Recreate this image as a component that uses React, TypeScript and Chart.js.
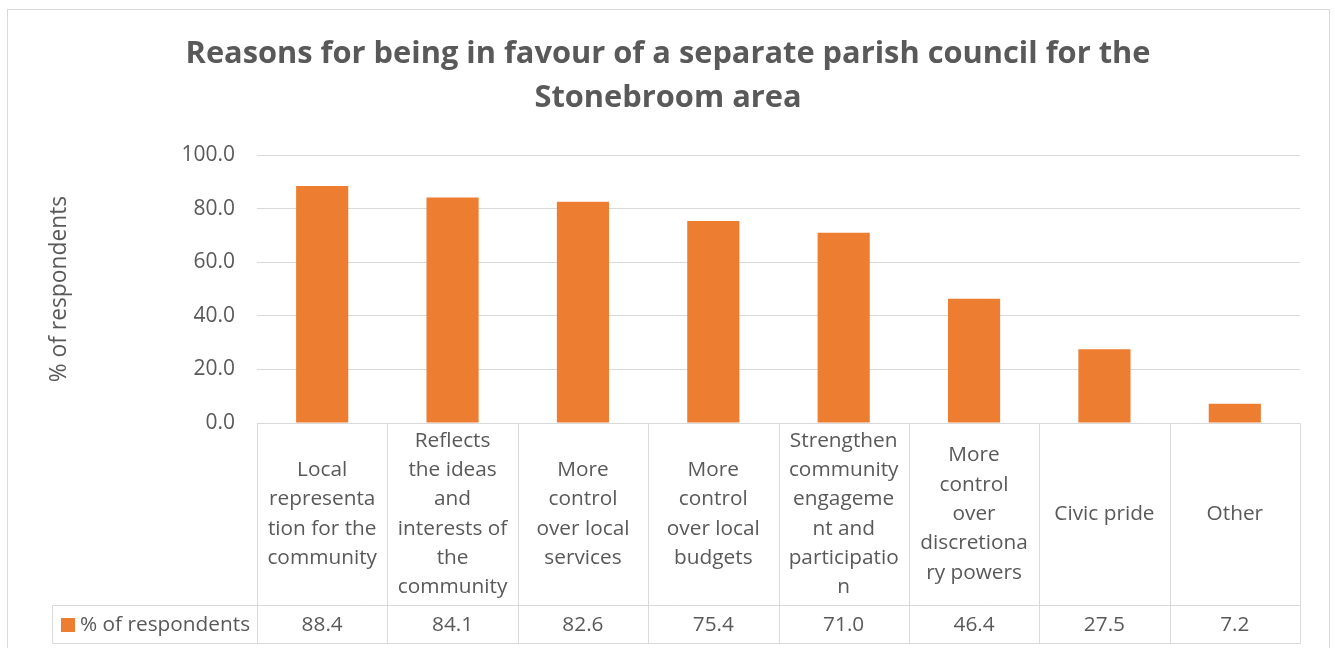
import React, { useEffect, useRef } from "react";
import { Chart, registerables } from "chart.js";

Chart.register(...registerables);

const TITLE_LINES = [
  "Reasons for being in favour of a separate parish council for the",
  "Stonebroom area",
];
const SERIES_NAME = "% of respondents";
const CATEGORY_LINES: string[][] = [
  ["Local", "representa", "tion for the", "community"],
  ["Reflects", "the ideas", "and", "interests of", "the", "community"],
  ["More", "control", "over local", "services"],
  ["More", "control", "over local", "budgets"],
  ["Strengthen", "community", "engageme", "nt and", "participatio", "n"],
  ["More", "control", "over", "discretiona", "ry powers"],
  ["Civic pride"],
  ["Other"],
];
const CATEGORIES = CATEGORY_LINES.map((l) => l.join(" "));
const VALUES = [88.4, 84.1, 82.6, 75.4, 71.0, 46.4, 27.5, 7.2];
const Y_TICKS = [0, 20, 40, 60, 80, 100];

const FONT = "'Open Sans'";
const GREY = "#595959";
const LINE = "#d9d9d9";
const ORANGE = "#ED7D31";
const TABLE_FONT = 20.8;

const tablePlugin = {
  id: "dataTable",
  afterDraw(chart: any) {
    const { ctx, chartArea } = chart;
    const x = chart.scales.x;
    const n = CATEGORIES.length;
    const half = (x.getPixelForValue(1) - x.getPixelForValue(0)) / 2;
    const top = chartArea.bottom;
    const catRowH = 182;
    const valRowH = 38;
    const mid = top + catRowH;
    const bot = mid + valRowH;
    const legendLeft = 52;
    ctx.save();
    // outer chart border
    ctx.strokeStyle = LINE;
    ctx.lineWidth = 1;
    ctx.strokeRect(7.5, 9.5, 1322, 700);
    // title
    ctx.fillStyle = GREY;
    ctx.textAlign = "center";
    ctx.textBaseline = "middle";
    ctx.font = `bold 30.8px ${FONT}`;
    TITLE_LINES.forEach((t, k) => ctx.fillText(t, 668, 54 + k * 44));
    // table lines
    ctx.beginPath();
    const L = Math.round(x.getPixelForValue(0) - half) + 0.5;
    const R = Math.round(x.getPixelForValue(n - 1) + half) + 0.5;
    ctx.moveTo(L, Math.round(top) + 0.5);
    ctx.lineTo(R, Math.round(top) + 0.5);
    ctx.moveTo(legendLeft + 0.5, Math.round(mid) + 0.5);
    ctx.lineTo(R, Math.round(mid) + 0.5);
    ctx.moveTo(legendLeft + 0.5, Math.round(bot) + 0.5);
    ctx.lineTo(R, Math.round(bot) + 0.5);
    ctx.moveTo(legendLeft + 0.5, Math.round(mid) + 0.5);
    ctx.lineTo(legendLeft + 0.5, Math.round(bot) + 0.5);
    for (let i = 0; i <= n; i++) {
      const px = Math.round(x.getPixelForValue(i) - half) + 0.5;
      ctx.moveTo(px, Math.round(top) + 0.5);
      ctx.lineTo(px, Math.round(bot) + 0.5);
    }
    ctx.stroke();
    // text
    ctx.fillStyle = GREY;
    ctx.font = `${TABLE_FONT}px ${FONT}`;
    const lh = 29.3;
    const cy = top + catRowH / 2;
    for (let i = 0; i < n; i++) {
      const cx = x.getPixelForValue(i);
      const lines = CATEGORY_LINES[i];
      const y0 = cy - ((lines.length - 1) * lh) / 2;
      lines.forEach((t, k) => ctx.fillText(t, cx, y0 + k * lh));
      ctx.fillText(VALUES[i].toFixed(1), cx, mid + valRowH / 2 + 1);
    }
    // legend cell
    ctx.fillStyle = ORANGE;
    ctx.fillRect(61, mid + 13, 14, 14);
    ctx.fillStyle = GREY;
    ctx.textAlign = "left";
    ctx.fillText(SERIES_NAME, 80, mid + valRowH / 2 + 1);
    ctx.restore();
  },
};

export default function App() {
  const ref = useRef<HTMLCanvasElement>(null);
  useEffect(() => {
    if (!ref.current) return;
    const chart = new Chart(ref.current, {
      type: "bar",
      data: {
        labels: CATEGORIES,
        datasets: [
          {
            label: SERIES_NAME,
            data: VALUES,
            backgroundColor: ORANGE,
            categoryPercentage: 1,
            barPercentage: 0.4,
          },
        ],
      },
      options: {
        responsive: false,
        animation: false,
        layout: { padding: { left: 0, right: 35, top: 155, bottom: 0 } },
        plugins: {
          legend: { display: false },
          tooltip: { enabled: false },
          title: { display: false },
        },
        scales: {
          x: {
            grid: { display: false },
            border: { display: false },
            ticks: { display: false },
            afterFit(scale: any) {
              scale.height = 225;
            },
          },
          y: {
            min: 0,
            max: 100,
            afterBuildTicks(scale: any) {
              scale.ticks = Y_TICKS.map((v) => ({ value: v }));
            },
            ticks: {
              color: GREY,
              font: { family: "Open Sans", size: 21 },
              padding: 22,
              callback: (v: any) => Number(v).toFixed(1),
            },
            grid: { color: LINE, drawTicks: false },
            border: { display: false },
            title: {
              display: true,
              text: SERIES_NAME,
              color: GREY,
              font: { family: "Open Sans", size: 22.8 },
              padding: { top: 46 },
            },
            afterFit(scale: any) {
              scale.width = 257;
            },
          },
        },
      },
      plugins: [tablePlugin],
    });
    return () => chart.destroy();
  }, []);
  return (
    <div style={{ position: "fixed", left: 0, top: 0, width: 1335, height: 648, background: "#fff" }}>
      <canvas ref={ref} width={1335} height={648} style={{ width: 1335, height: 648 }} />
    </div>
  );
}
